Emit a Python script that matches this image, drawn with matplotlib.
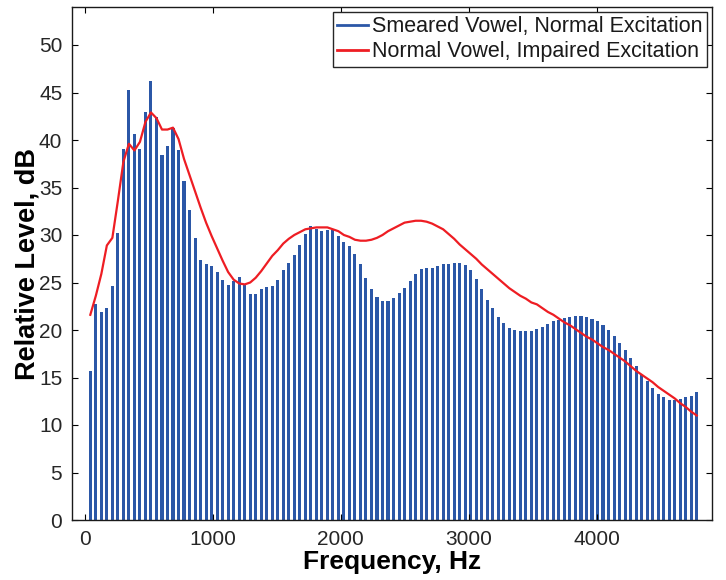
import numpy as np
import matplotlib
matplotlib.use("Agg")
import matplotlib.pyplot as plt
from matplotlib.lines import Line2D

plt.rcParams['font.family'] = ['Liberation Sans', 'DejaVu Sans']

# FFT bin spacing (Hz) and bin indices shown in the figure
BIN_HZ = 43.07
bins = np.arange(1, 112)
freqs = bins * BIN_HZ

# Smeared vowel, normal excitation (bars), dB
smeared = [
    15.7, 22.7, 21.9, 22.3, 24.6, 30.2, 39.1, 45.3, 40.6, 39.1, 43.0, 46.2,
    42.4, 38.4, 39.4, 41.3, 39.0, 35.7, 32.6, 29.7, 27.4,
    26.9, 26.7, 26.1, 25.3, 24.7, 25.2, 25.6, 24.7, 23.8, 23.8, 24.3, 24.5,
    24.6, 25.3, 26.3, 27.1, 27.9, 29.0, 30.1, 30.9,
    30.6, 30.4, 30.5, 30.5, 29.9, 29.3, 28.8, 28.0, 26.9, 25.5, 24.3, 23.5,
    23.1, 23.1, 23.4, 23.9, 24.4, 25.2, 25.9, 26.4,
    26.5, 26.5, 26.7, 26.9, 27.0, 27.1, 27.1, 26.8, 26.3, 25.4, 24.3, 23.2,
    22.3, 21.4, 20.7, 20.2, 20.0, 19.9, 19.9, 19.9,
    20.1, 20.3, 20.6, 20.9, 21.1, 21.3, 21.4, 21.5, 21.5, 21.4, 21.2, 20.9,
    20.5, 20.0, 19.4, 18.6, 17.9, 17.1,
    16.2, 15.3, 14.6, 13.9, 13.3, 12.9, 12.6, 12.6, 12.7, 12.9, 13.1, 13.5,
]

# Normal vowel, impaired excitation (red line), dB
impaired = [
    21.6, 23.6, 25.9, 28.9, 29.7, 33.6, 37.7, 39.6, 38.9, 39.8, 41.9, 42.9,
    42.3, 41.1, 41.1, 41.3, 40.1, 38.0, 36.3, 34.6, 32.9,
    31.3, 29.9, 28.6, 27.3, 26.1, 25.3, 24.9, 24.8, 25.0, 25.5, 26.2, 27.0,
    27.8, 28.4, 29.1, 29.6, 30.0, 30.3, 30.6, 30.7,
    30.8, 30.8, 30.8, 30.6, 30.4, 30.0, 29.8, 29.5, 29.4, 29.4, 29.5, 29.7,
    30.0, 30.4, 30.7, 31.0, 31.3, 31.4, 31.5, 31.5,
    31.4, 31.2, 30.9, 30.6, 30.1, 29.6, 29.0, 28.5, 28.0, 27.5, 26.9, 26.4,
    25.9, 25.4, 24.9, 24.4, 24.0, 23.6, 23.3, 22.9,
    22.7, 22.3, 21.9, 21.6, 21.2, 20.8, 20.5, 20.1, 19.7, 19.3, 19.0, 18.6,
    18.2, 17.9, 17.5, 17.1,
    16.7, 16.2, 15.7, 15.3, 14.9, 14.5, 14.0, 13.6, 13.2, 12.8, 12.3, 11.9,
    11.4, 11.0,
]

labels = ["Smeared Vowel, Normal Excitation",
          "Normal Vowel, Impaired Excitation"]

BLUE = "#2b57a7"
RED = "#ee1d23"

fig = plt.figure(figsize=(7.26, 5.8), dpi=100)
ax = fig.add_axes([72 / 726, 1 - 520 / 580, 640 / 726, 513 / 580])

ax.bar(freqs, smeared, width=24, color=BLUE, linewidth=0)
ax.plot(freqs, impaired, color=RED, linewidth=1.6)

ax.set_xlim(-100, 4900)
ax.set_ylim(0, 54)
ax.set_xticks([0, 1000, 2000, 3000, 4000])
ax.set_yticks(np.arange(0, 51, 5))

ax.tick_params(direction="in", top=True, right=True, length=4.5, width=0.8,
               labelsize=15, labelcolor="#262626", pad=7)
for s in ax.spines.values():
    s.set_linewidth(1.0)
    s.set_color("#1a1a1a")

ax.set_xlabel("Frequency, Hz", fontsize=19, fontweight="bold", labelpad=1)
ax.set_ylabel("Relative Level, dB", fontsize=19.5, fontweight="bold", labelpad=-1)

handles = [Line2D([], [], color=BLUE, linewidth=2),
           Line2D([], [], color=RED, linewidth=2)]
leg = ax.legend(handles, labels, loc="upper right", fontsize=15.5,
                fancybox=False, framealpha=1, edgecolor="#262626",
                borderaxespad=0.22, handlelength=1.45, handletextpad=0.2,
                labelspacing=0.2, borderpad=0.2)
leg.get_frame().set_linewidth(1.0)
for t in leg.get_texts():
    t.set_color("#1a1a1a")

fig.savefig("out.png", dpi=100)
